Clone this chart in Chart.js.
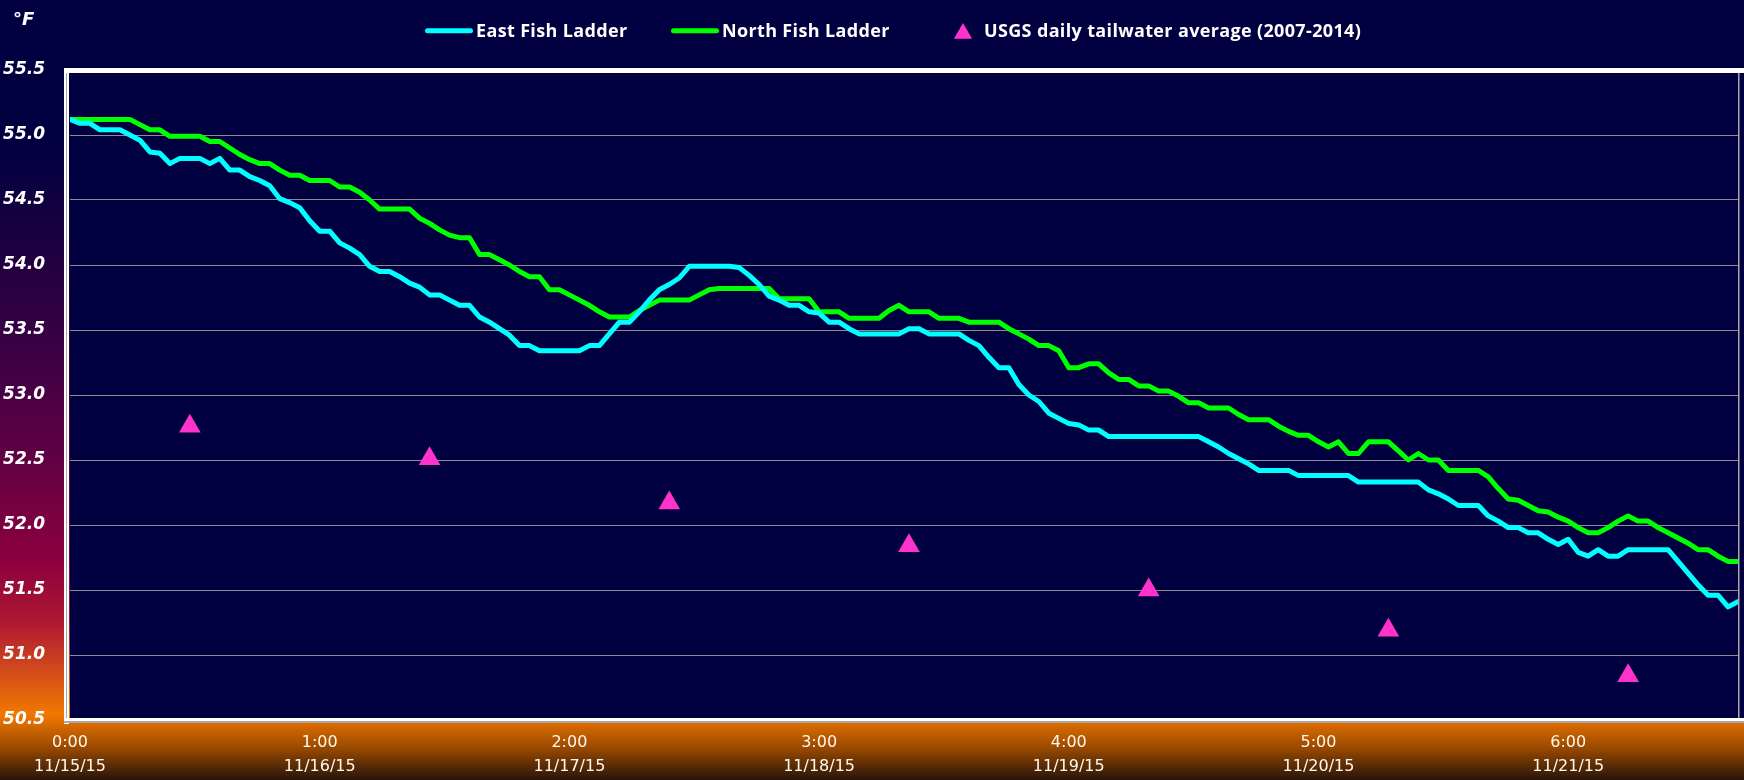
<!DOCTYPE html>
<html>
<head>
<meta charset="utf-8">
<title>Fish ladder water temperature</title>
<script src="https://cdn.jsdelivr.net/npm/chart.js@4.4.1/dist/chart.umd.min.js"></script>
<style>
  html, body { margin: 0; padding: 0; background: #000040; overflow: hidden; }
</style>
</head>
<body>
<canvas id="tempChart" width="1744" height="780"></canvas>
<script>
// hourly readings starting 11/15/15 0:00 (°F)
const eastFishLadder = [
  55.12, 55.09, 55.09, 55.04, 55.04, 55.04, 55.00, 54.96, 54.87, 54.86,
  54.78, 54.82, 54.82, 54.82, 54.78, 54.82, 54.73, 54.73, 54.68, 54.65,
  54.61, 54.51, 54.48, 54.44, 54.34, 54.26, 54.26, 54.17, 54.13, 54.08,
  53.99, 53.95, 53.95, 53.91, 53.86, 53.83, 53.77, 53.77, 53.73, 53.69,
  53.69, 53.60, 53.56, 53.51, 53.46, 53.38, 53.38, 53.34, 53.34, 53.34,
  53.34, 53.34, 53.38, 53.38, 53.47, 53.56, 53.56, 53.64, 53.73, 53.81,
  53.85, 53.90, 53.99, 53.99, 53.99, 53.99, 53.99, 53.98, 53.92, 53.85,
  53.76, 53.73, 53.69, 53.69, 53.64, 53.63, 53.56, 53.56, 53.51, 53.47,
  53.47, 53.47, 53.47, 53.47, 53.51, 53.51, 53.47, 53.47, 53.47, 53.47,
  53.42, 53.38, 53.29, 53.21, 53.21, 53.08, 53.00, 52.95, 52.86, 52.82,
  52.78, 52.77, 52.73, 52.73, 52.68, 52.68, 52.68, 52.68, 52.68, 52.68,
  52.68, 52.68, 52.68, 52.68, 52.64, 52.60, 52.55, 52.51, 52.47, 52.42,
  52.42, 52.42, 52.42, 52.38, 52.38, 52.38, 52.38, 52.38, 52.38, 52.33,
  52.33, 52.33, 52.33, 52.33, 52.33, 52.33, 52.27, 52.24, 52.20, 52.15,
  52.15, 52.15, 52.07, 52.03, 51.98, 51.98, 51.94, 51.94, 51.89, 51.85,
  51.89, 51.79, 51.76, 51.81, 51.76, 51.76, 51.81, 51.81, 51.81, 51.81,
  51.81, 51.72, 51.63, 51.54, 51.46, 51.46, 51.37, 51.41
];
const northFishLadder = [
  55.12, 55.12, 55.12, 55.12, 55.12, 55.12, 55.12, 55.08, 55.04, 55.04,
  54.99, 54.99, 54.99, 54.99, 54.95, 54.95, 54.90, 54.85, 54.81, 54.78,
  54.78, 54.73, 54.69, 54.69, 54.65, 54.65, 54.65, 54.60, 54.60, 54.56,
  54.50, 54.43, 54.43, 54.43, 54.43, 54.36, 54.32, 54.27, 54.23, 54.21,
  54.21, 54.08, 54.08, 54.04, 54.00, 53.95, 53.91, 53.91, 53.81, 53.81,
  53.77, 53.73, 53.69, 53.64, 53.60, 53.60, 53.60, 53.65, 53.69, 53.73,
  53.73, 53.73, 53.73, 53.77, 53.81, 53.82, 53.82, 53.82, 53.82, 53.82,
  53.82, 53.74, 53.74, 53.74, 53.74, 53.64, 53.64, 53.64, 53.59, 53.59,
  53.59, 53.59, 53.65, 53.69, 53.64, 53.64, 53.64, 53.59, 53.59, 53.59,
  53.56, 53.56, 53.56, 53.56, 53.51, 53.47, 53.43, 53.38, 53.38, 53.34,
  53.21, 53.21, 53.24, 53.24, 53.17, 53.12, 53.12, 53.07, 53.07, 53.03,
  53.03, 52.99, 52.94, 52.94, 52.90, 52.90, 52.90, 52.85, 52.81, 52.81,
  52.81, 52.76, 52.72, 52.69, 52.69, 52.64, 52.60, 52.64, 52.55, 52.55,
  52.64, 52.64, 52.64, 52.57, 52.50, 52.55, 52.50, 52.50, 52.42, 52.42,
  52.42, 52.42, 52.37, 52.28, 52.20, 52.19, 52.15, 52.11, 52.10, 52.06,
  52.03, 51.98, 51.94, 51.94, 51.98, 52.03, 52.07, 52.03, 52.03, 51.98,
  51.94, 51.90, 51.86, 51.81, 51.81, 51.76, 51.72, 51.72
];
// USGS daily tailwater average, plotted at noon of each day
const usgsHours = [12, 36, 60, 84, 108, 132, 156];
const usgsAverage = [52.76, 52.51, 52.17, 51.84, 51.50, 51.19, 50.84];

// category axis labels shown every 25th hour
const tickHours = [0, 25, 50, 75, 100, 125, 150];
const tickLabels = [
  ['0:00', '11/15/15'],
  ['1:00', '11/16/15'],
  ['2:00', '11/17/15'],
  ['3:00', '11/18/15'],
  ['4:00', '11/19/15'],
  ['5:00', '11/20/15'],
  ['6:00', '11/21/15']
];

const NAVY = '#000040';

// where each legend entry sits (symbol start, text start)
const legendSlots = [
  { symbolX: 425, textX: 476 },
  { symbolX: 671, textX: 722 },
  { symbolX: 939, textX: 984 }
];

// page gradient, plot fill, plot frame, °F unit and the legend
const decorations = {
  id: 'decorations',
  beforeDraw(chart) {
    const { ctx, width, height, chartArea: a } = chart;
    const g = ctx.createLinearGradient(0, 0, 0, height);
    g.addColorStop(0.00, 'rgb(0,0,64)');
    g.addColorStop(0.18, 'rgb(0,0,64)');
    g.addColorStop(0.30, 'rgb(25,0,64)');
    g.addColorStop(0.45, 'rgb(60,0,68)');
    g.addColorStop(0.58, 'rgb(95,0,68)');
    g.addColorStop(0.72, 'rgb(140,0,62)');
    g.addColorStop(0.80, 'rgb(175,25,48)');
    g.addColorStop(0.86, 'rgb(210,75,28)');
    g.addColorStop(0.915, 'rgb(240,120,0)');
    g.addColorStop(0.93, 'rgb(215,105,0)');
    g.addColorStop(0.96, 'rgb(150,72,0)');
    g.addColorStop(1.00, 'rgb(40,20,10)');
    ctx.save();
    ctx.fillStyle = g;
    ctx.fillRect(0, 0, width, height);
    ctx.fillStyle = NAVY;
    ctx.fillRect(a.left, a.top, width - a.left, a.bottom - a.top);
    ctx.restore();
  },
  beforeDatasetsDraw(chart) {
    const { ctx, width, chartArea: a } = chart;
    ctx.save();
    ctx.fillStyle = '#ffffff';
    ctx.fillRect(64, a.top - 2, width - 64, 5);           // top
    ctx.fillRect(64, a.top - 2, 5, a.bottom - a.top + 6);  // left
    ctx.fillRect(64, a.bottom - 2, width - 64, 3);         // bottom
    ctx.fillStyle = '#a8a8a8';
    ctx.fillRect(66, a.top + 3, 1, a.bottom - a.top - 5);
    ctx.fillRect(64, a.bottom + 1, width - 64, 2);
    ctx.fillRect(a.right, a.top + 3, 1.5, a.bottom - a.top - 5);
    ctx.restore();
  },
  afterDraw(chart) {
    const { ctx } = chart;
    ctx.save();
    ctx.fillStyle = '#ffffff';
    ctx.font = "italic bold 18px 'DejaVu Sans'";
    ctx.textBaseline = 'alphabetic';
    ctx.fillText('°F', 13, 25);

    // legend
    ctx.font = "bold 18px 'Open Sans'";
    if ('letterSpacing' in ctx) ctx.letterSpacing = '0.35px';
    const cy = 30.8;
    chart.data.datasets.forEach((ds, i) => {
      const slot = legendSlots[i];
      if (ds.showLine === false) {
        const r = 10.5, tx = slot.symbolX + 24, ty = cy + 2.6;
        const hw = r * Math.sin(2 * Math.PI / 3);
        ctx.fillStyle = ds.pointBackgroundColor;
        ctx.beginPath();
        ctx.moveTo(tx, ty - r);
        ctx.lineTo(tx + hw, ty + r / 2);
        ctx.lineTo(tx - hw, ty + r / 2);
        ctx.closePath();
        ctx.fill();
      } else {
        ctx.strokeStyle = ds.borderColor;
        ctx.lineWidth = 5;
        ctx.lineCap = 'round';
        ctx.beginPath();
        ctx.moveTo(slot.symbolX + 2.5, cy);
        ctx.lineTo(slot.symbolX + 45.5, cy);
        ctx.stroke();
      }
      ctx.fillStyle = '#ffffff';
      ctx.fillText(ds.label, slot.textX, 36.5);
    });
    ctx.restore();
  }
};

const toPoints = values => values.map((v, i) => ({ x: i, y: v }));

new Chart(document.getElementById('tempChart'), {
  type: 'line',
  data: {
    datasets: [
      {
        label: 'East Fish Ladder',
        data: toPoints(eastFishLadder),
        borderColor: '#00ffff',
        borderWidth: 5,
        borderJoinStyle: 'round',
        borderCapStyle: 'round',
        pointRadius: 0,
        tension: 0
      },
      {
        label: 'North Fish Ladder',
        data: toPoints(northFishLadder),
        borderColor: '#00ff00',
        borderWidth: 5,
        borderJoinStyle: 'round',
        borderCapStyle: 'round',
        pointRadius: 0,
        tension: 0
      },
      {
        label: 'USGS daily tailwater average (2007-2014)',
        data: usgsHours.map((h, i) => ({ x: h, y: usgsAverage[i] })),
        borderColor: '#ff33cc',
        backgroundColor: '#ff33cc',
        showLine: false,
        pointStyle: 'triangle',
        pointRadius: 12.5,
        pointBorderWidth: 0,
        pointBackgroundColor: '#ff33cc'
      }
    ]
  },
  options: {
    responsive: false,
    devicePixelRatio: 1,
    animation: false,
    events: [],
    layout: {
      autoPadding: false, // keep the marker size from shrinking the plot
      padding: { top: 70, right: 6, left: 0, bottom: 0 }
    },
    plugins: {
      legend: { display: false },
      tooltip: { enabled: false }
    },
    scales: {
      x: {
        type: 'linear',
        min: 0,
        max: eastFishLadder.length - 1,
        afterBuildTicks: scale => { scale.ticks = tickHours.map(v => ({ value: v })); },
        afterFit: scale => {
          scale.height = 60;
          scale.paddingLeft = 0;
          scale.paddingRight = 0;
        },
        grid: { display: false, drawTicks: false },
        border: { display: false },
        ticks: {
          autoSkip: false,
          maxRotation: 0,
          padding: 11,
          color: '#fff8ee',
          font: { family: 'DejaVu Sans', size: 16, lineHeight: 1.5 },
          callback: value => tickLabels[tickHours.indexOf(value)]
        }
      },
      y: {
        min: 50.5,
        max: 55.5,
        afterFit: scale => { scale.width = 70; },
        grid: { color: '#8c8c8c', lineWidth: 1, drawTicks: false },
        border: { display: false },
        ticks: {
          stepSize: 0.5,
          padding: 25,
          color: '#ffffff',
          font: { family: 'DejaVu Sans', size: 17, style: 'italic', weight: 'bold' },
          callback: value => value.toFixed(1)
        }
      }
    }
  },
  plugins: [decorations]
});
</script>
</body>
</html>
